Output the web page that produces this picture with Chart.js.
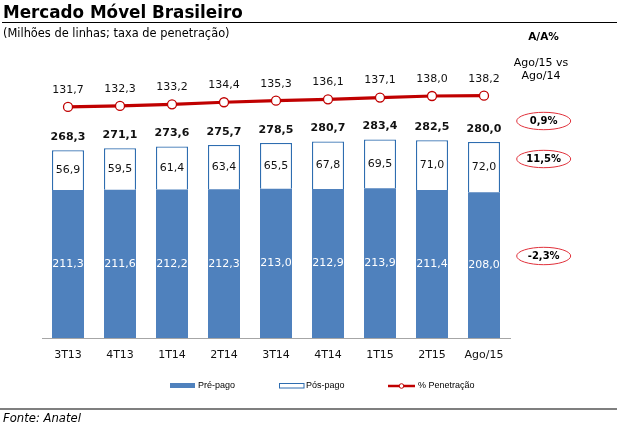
<!DOCTYPE html>
<html><head><meta charset="utf-8">
<script src="https://cdn.jsdelivr.net/npm/chart.js@4"></script>
<style>html,body{margin:0;padding:0;background:#fff}#wrap{position:relative;width:617px;height:428px}</style>
</head><body><div id="wrap"><canvas id="c" width="617" height="428"></canvas></div>
<script>
const categories = ['3T13','4T13','1T14','2T14','3T14','4T14','1T15','2T15','Ago/15'];
const prePago = [211.3,211.6,212.2,212.3,213.0,212.9,213.9,211.4,208.0];
const posPago = [56.9,59.5,61.4,63.4,65.5,67.8,69.5,71.0,72.0];
const totals = [268.3,271.1,273.6,275.7,278.5,280.7,283.4,282.5,280.0];
const penetracao = [131.7,132.3,133.2,134.4,135.3,136.1,137.1,138.0,138.2];
const seriesNames = ['Pré-pago','Pós-pago','% Penetração'];
const yoyLabels = ['0,9%','11,5%','-2,3%'];
const titleText = 'Mercado Móvel Brasileiro';
const subtitleText = '(Milhões de linhas; taxa de penetração)';
const yoyHeader = ['A/A%','Ago/15 vs','Ago/14'];
const sourceText = 'Fonte: Anatel';

const BLUE = '#4F81BD', BLUE_EDGE = '#2E6DB0', RED = '#C00000', ELL = '#E0303A', TXT = '#111';
const fmt = v => v.toFixed(1).replace('.', ',');

function fitSize(ctx, text, style, family, target){
  ctx.font = style + ' 100px ' + family;
  return 100 * target / ctx.measureText(text).width;
}

const labelPlugin = {
  id: 'labels',
  afterDatasetsDraw(chart){
    const ctx = chart.ctx;
    const m0 = chart.getDatasetMeta(0), m1 = chart.getDatasetMeta(1), m2 = chart.getDatasetMeta(2);
    ctx.save();
    ctx.textAlign = 'center'; ctx.textBaseline = 'middle';
    ctx.font = '11px "DejaVu Sans"';
    m0.data.forEach((b,i)=>{
      ctx.fillStyle = '#fff';
      ctx.fillText(fmt(prePago[i]), b.x, (b.y + b.base)/2);
    });
    m1.data.forEach((b,i)=>{
      ctx.fillStyle = TXT;
      ctx.fillText(fmt(posPago[i]), b.x, (b.y + b.base)/2);
    });
    ctx.font = 'bold 11px "DejaVu Sans"';
    m1.data.forEach((b,i)=>{
      ctx.fillStyle = TXT;
      ctx.fillText(fmt(totals[i]), b.x, b.y - 13);
    });
    ctx.font = '11px "DejaVu Sans"';
    m2.data.forEach((p,i)=>{
      ctx.fillStyle = TXT;
      ctx.fillText(fmt(penetracao[i]), p.x, p.y - 17);
    });
    ctx.restore();
  },
  afterDraw(chart){
    const ctx = chart.ctx;
    ctx.save();
    // title
    ctx.fillStyle = '#000';
    ctx.textAlign = 'left'; ctx.textBaseline = 'alphabetic';
    let s = fitSize(ctx, titleText, 'bold', '"DejaVu Sans"', 240);
    ctx.font = 'bold ' + s + 'px "DejaVu Sans"';
    ctx.fillText(titleText, 3, 17.5);
    ctx.strokeStyle = '#000'; ctx.lineWidth = 1.2;
    ctx.beginPath(); ctx.moveTo(2, 22.5); ctx.lineTo(617, 22.5); ctx.stroke();
    s = fitSize(ctx, subtitleText, '', '"DejaVu Sans"', 227);
    ctx.font = s + 'px "DejaVu Sans"';
    ctx.fillText(subtitleText, 3, 36.5);
    // right header
    ctx.textAlign = 'center';
    ctx.font = 'bold 10.5px "DejaVu Sans"';
    ctx.fillText(yoyHeader[0], 543.5, 39.5);
    ctx.font = '11px "DejaVu Sans"';
    ctx.fillText(yoyHeader[1], 541, 65.5);
    ctx.fillText(yoyHeader[2], 541, 78.5);
    // ellipses
    const ey = [121, 159, 256];
    ctx.textBaseline = 'middle';
    yoyLabels.forEach((t,i)=>{
      ctx.beginPath(); ctx.ellipse(543.7, ey[i], 27, 8.7, 0, 0, Math.PI*2);
      ctx.fillStyle = '#fff'; ctx.fill();
      ctx.strokeStyle = ELL; ctx.lineWidth = 1; ctx.stroke();
      ctx.fillStyle = '#000'; ctx.font = 'bold 10px "DejaVu Sans"';
      ctx.fillText(t, 543.7, ey[i] + 0.5);
    });
    // legend
    const ly = 386;
    const ls = fitSize(ctx, seriesNames[2], '', '"Liberation Sans"', 56.5);
    ctx.font = ls + 'px "Liberation Sans"';
    ctx.textAlign = 'left';
    ctx.fillStyle = BLUE; ctx.fillRect(170, ly - 3, 25, 5);
    ctx.fillStyle = '#000'; ctx.fillText(seriesNames[0], 198, ly);
    ctx.strokeStyle = BLUE_EDGE; ctx.lineWidth = 1; ctx.strokeRect(279.5, ly - 2.5, 24.5, 4.5);
    ctx.fillStyle = '#000'; ctx.fillText(seriesNames[1], 306, ly);
    ctx.strokeStyle = RED; ctx.lineWidth = 2.5;
    ctx.beginPath(); ctx.moveTo(388, ly); ctx.lineTo(415, ly); ctx.stroke();
    ctx.beginPath(); ctx.arc(401.5, ly, 2.3, 0, Math.PI*2); ctx.fillStyle = '#fff'; ctx.fill();
    ctx.lineWidth = 1; ctx.stroke();
    ctx.fillStyle = '#000'; ctx.fillText(seriesNames[2], 418, ly);
    // bottom
    ctx.strokeStyle = '#000'; ctx.lineWidth = 1.2;
    ctx.beginPath(); ctx.moveTo(0, 409); ctx.lineTo(617, 409); ctx.stroke();
    ctx.textBaseline = 'alphabetic';
    s = fitSize(ctx, sourceText, 'italic', '"DejaVu Sans"', 78);
    ctx.font = 'italic ' + s + 'px "DejaVu Sans"';
    ctx.fillText(sourceText, 3, 422);
    ctx.restore();
  }
};

new Chart(document.getElementById('c'), {
  data: {
    labels: categories,
    datasets: [
      { type:'bar', label: seriesNames[0], data: prePago, backgroundColor: BLUE, borderColor: BLUE, borderWidth: 0,
        stack:'s', yAxisID:'y', order: 2, categoryPercentage: 1, barPercentage: 32/52 },
      { type:'bar', label: seriesNames[1], data: posPago, backgroundColor: '#fff', borderColor: BLUE_EDGE, borderWidth: 1.3,
        stack:'s', yAxisID:'y', order: 2, categoryPercentage: 1, barPercentage: 32/52 },
      { type:'line', label: seriesNames[2], data: penetracao, yAxisID:'y2', borderColor: RED, borderWidth: 3.2,
        pointRadius: 4.5, pointBackgroundColor: '#fff', pointBorderColor: RED, pointBorderWidth: 1.3, tension: 0, order: 0 }
    ]
  },
  options: {
    responsive: false, animation: false, devicePixelRatio: 1,
    layout: { padding: { left: 42, right: 107, top: 60, bottom: 50 } },
    plugins: { legend: { display: false }, tooltip: { enabled: false } },
    scales: {
      x: { stacked: true, offset: true, grid: { display: false },
           border: { display: true, color: '#A6A6A6', width: 1 },
           ticks: { color: TXT, font: { family: 'DejaVu Sans', size: 11 }, padding: 3, maxRotation: 0, autoSkip: false },
           afterFit(sc){ sc.height = 40; } },
      y: { stacked: true, display: false, min: 0, max: 397 },
      y2: { display: false, min: -1.2, max: 158.7 }
    }
  },
  plugins: [labelPlugin]
});
</script>
</body></html>
